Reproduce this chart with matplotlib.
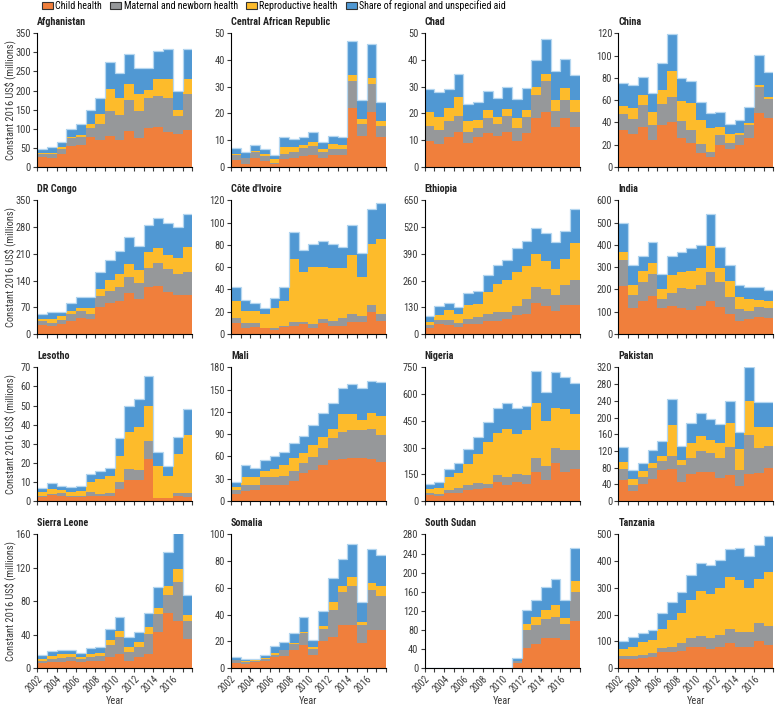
import matplotlib.pyplot as plt
from matplotlib import font_manager as fm
from matplotlib import transforms
import numpy as np

# the reference uses a condensed sans; pick one if the machine has it
pref = ['Roboto', 'Roboto Condensed', 'Noto Sans', 'Noto Sans Condensed', 'Open Sans',
        'Open Sans Condensed', 'Liberation Sans Narrow', 'DejaVu Sans']
narrow = [f for f in fm.fontManager.ttflist
          if f.stretch in ('condensed', 'semi-condensed', 'extra-condensed')
          or 'Condensed' in f.name or 'Narrow' in f.name]
narrow = sorted([f for f in narrow if f.name in pref], key=lambda f: pref.index(f.name))
if narrow:
    plt.rcParams['font.family'] = [narrow[0].name, 'DejaVu Sans']
    plt.rcParams['font.stretch'] = narrow[0].stretch
else:
    plt.rcParams['font.family'] = ['Liberation Sans', 'DejaVu Sans']
condensed = bool(narrow)

years = np.arange(2002, 2018)
layers = ['Child health', 'Maternal and newborn health', 'Reproductive health',
          'Share of regional and unspecified aid']
colors = ['#F07F3C', '#96989A', '#FDBB2B', '#5098D3']

# each country: child, maternal/newborn, reproductive, regional/unspecified (US$ millions)
afghanistan = [
    [26, 23, 35, 55, 58, 77, 70, 82, 70, 95, 76, 101, 104, 91, 85, 97],
    [9, 10, 13, 21, 21, 25, 43, 64, 67, 79, 70, 79, 82, 89, 47, 93],
    [2, 3, 3, 1, 5, 11, 26, 59, 44, 44, 46, 22, 43, 51, 18, 41],
    [11, 17, 13, 23, 29, 35, 42, 69, 64, 78, 66, 58, 74, 78, 50, 78],
]
car = [
    [2.5, 1.2, 3.5, 2.2, 1.0, 3.1, 3.5, 4.1, 4.5, 3.2, 4.5, 4.5, 21.9, 11.5, 20.6, 11.0],
    [1.9, 2.0, 1.9, 1.7, 0.6, 1.6, 1.9, 2.8, 3.2, 2.2, 2.1, 2.1, 10.3, 4.5, 10.3, 4.3],
    [0.3, 0.3, 0.6, 0.8, 1.3, 2.9, 2.2, 1.2, 1.7, 1.2, 1.9, 1.6, 2.0, 1.8, 2.3, 1.9],
    [2.5, 2.2, 2.2, 2.0, 1.6, 3.4, 2.9, 3.2, 3.8, 2.8, 3.0, 2.8, 12.9, 7.3, 12.7, 7.1],
]
chad = [
    [9.5, 8.5, 11.0, 13.2, 9.0, 11.0, 12.8, 11.6, 13.2, 9.7, 12.8, 18.2, 20.7, 15.1, 18.2, 15.1],
    [5.8, 5.2, 6.0, 5.9, 4.2, 3.7, 5.4, 4.6, 5.9, 5.0, 5.7, 8.7, 11.5, 5.8, 6.9, 5.5],
    [5.3, 5.0, 4.9, 7.1, 3.8, 2.8, 3.0, 2.6, 2.5, 3.5, 2.7, 3.0, 2.7, 4.2, 4.3, 4.3],
    [8.5, 9.5, 7.2, 8.5, 6.4, 6.9, 7.2, 6.9, 8.3, 7.1, 8.2, 10.0, 12.9, 10.8, 11.1, 9.5],
]
china = [
    [32.7, 29.7, 35.7, 23.7, 37.2, 40.5, 26.1, 21.6, 12.6, 9.3, 19.5, 16.2, 19.5, 26.1, 48.3, 43.8],
    [14.4, 12.9, 19.8, 13.5, 19.5, 22.2, 15.3, 11.1, 8.1, 4.2, 9.0, 5.4, 8.7, 11.4, 23.4, 16.8],
    [7.5, 10.2, 9.0, 12.0, 12.6, 23.1, 17.7, 24.6, 21.3, 21.0, 7.2, 7.5, 2.4, 1.5, 1.8, 2.1],
    [20.4, 21.0, 16.2, 16.8, 24.3, 33.2, 20.4, 19.8, 16.2, 13.5, 13.5, 9.0, 11.1, 15.0, 26.7, 22.2],
]
dr_congo = [
    [24, 20, 26, 35, 42, 39, 70, 81, 87, 107, 92, 122, 126, 111, 102, 102],
    [9, 10, 11, 16, 17, 14, 30, 32, 36, 41, 41, 51, 59, 59, 55, 61],
    [7, 10, 9, 10, 9, 16, 18, 29, 35, 35, 35, 42, 39, 38, 43, 64],
    [12, 17, 11, 20, 29, 27, 45, 52, 58, 70, 62, 70, 80, 83, 80, 87],
]
cote_divoire = [
    [10.1, 5.7, 6.6, 5.1, 3.9, 6.0, 6.9, 8.7, 5.1, 10.1, 7.2, 7.2, 11.0, 10.4, 20.0, 11.9],
    [3.9, 4.4, 3.5, 0.6, 1.8, 1.5, 4.1, 2.3, 3.6, 3.0, 4.7, 6.8, 6.6, 6.0, 6.0, 5.7],
    [15.6, 10.8, 10.8, 11.9, 17.3, 22.1, 55.9, 44.8, 51.6, 47.2, 47.5, 45.4, 53.7, 34.9, 55.2, 68.1],
    [12.2, 9.5, 6.6, 5.4, 8.9, 12.2, 24.7, 20.0, 20.9, 23.3, 21.8, 18.8, 26.9, 21.8, 31.3, 32.2],
]
ethiopia = [
    [29, 48, 42, 35, 48, 48, 61, 65, 73, 90, 98, 150, 137, 113, 139, 142],
    [13, 21, 27, 18, 26, 33, 36, 41, 33, 47, 73, 76, 84, 77, 100, 121],
    [16, 21, 46, 44, 68, 66, 109, 138, 157, 166, 161, 161, 135, 125, 124, 177],
    [27, 44, 35, 32, 56, 63, 81, 91, 97, 113, 121, 126, 136, 133, 139, 170],
]
india = [
    [216, 116, 149, 171, 116, 126, 116, 108, 126, 149, 120, 89, 56, 66, 78, 71],
    [114, 60, 84, 98, 42, 60, 90, 95, 95, 129, 113, 75, 57, 38, 42, 45],
    [36, 45, 48, 50, 45, 77, 74, 81, 75, 116, 63, 72, 51, 54, 33, 33],
    [132, 87, 70, 93, 66, 88, 89, 100, 105, 145, 95, 72, 57, 51, 56, 50],
]
lesotho = [
    [2.3, 3.1, 2.6, 2.3, 2.3, 2.8, 2.4, 2.8, 6.3, 11.0, 11.0, 21.8, 1.4, 1.4, 2.6, 2.1],
    [0.5, 0.6, 1.4, 0.3, 0.3, 1.7, 1.1, 1.6, 3.8, 5.6, 5.2, 9.6, 0.3, 0.3, 1.4, 1.9],
    [1.7, 2.4, 1.8, 2.3, 2.8, 5.3, 8.0, 8.7, 13.6, 19.7, 22.7, 18.5, 16.8, 11.4, 20.4, 30.6],
    [2.1, 3.1, 2.2, 2.3, 2.6, 4.2, 4.2, 4.4, 9.1, 13.6, 14.3, 15.5, 7.0, 5.4, 8.9, 13.6],
]
mali = [
    [9.4, 13.5, 14.8, 21.5, 21.5, 21.5, 26.9, 37.3, 41.7, 48.5, 55.2, 56.1, 58.3, 58.3, 56.1, 53.0],
    [5.4, 8.0, 6.7, 11.3, 11.3, 12.2, 13.5, 13.4, 18.0, 22.4, 29.2, 37.3, 37.3, 37.3, 40.9, 35.9],
    [3.6, 11.3, 11.3, 8.0, 10.3, 14.8, 17.9, 13.5, 15.7, 14.8, 12.6, 23.3, 21.1, 13.5, 21.0, 26.0],
    [6.7, 15.7, 11.2, 14.4, 17.5, 17.9, 19.2, 23.8, 26.9, 32.3, 34.5, 35.9, 41.3, 43.5, 43.6, 44.9],
]
nigeria = [
    [34, 28, 43, 43, 62, 67, 75, 108, 90, 105, 95, 165, 118, 211, 165, 178],
    [13, 13, 19, 32, 28, 36, 20, 38, 47, 45, 51, 74, 80, 84, 121, 108],
    [20, 34, 75, 84, 116, 159, 234, 237, 267, 226, 250, 313, 253, 225, 228, 200],
    [28, 33, 43, 56, 84, 95, 116, 137, 144, 144, 137, 179, 159, 206, 184, 178],
]
pakistan = [
    [49.6, 24, 40, 53.6, 73.6, 77.6, 46.4, 64, 69.6, 69.6, 56, 61.6, 36, 64, 68, 78.4],
    [26.4, 14.4, 18.4, 24.8, 22.4, 30.4, 39.2, 40, 50.4, 44.8, 46.4, 68, 37.6, 94.4, 58.4, 52.8],
    [17.6, 13.6, 13.6, 12, 12, 74.4, 13.6, 36, 35.2, 31.2, 37.6, 57.6, 52, 81.6, 52, 47.2],
    [36, 21.6, 18.4, 31.2, 36, 61.6, 32.8, 48, 54.4, 50.4, 45.6, 52.8, 40.8, 80, 59.2, 59.2],
]
sierra_leone = [
    [6.0, 7.1, 7.1, 8.3, 7.1, 8.3, 9.1, 13.1, 17.1, 9.1, 13.1, 17.1, 42.9, 65.9, 56.8, 34.9],
    [3.1, 4.0, 5.2, 4.8, 4.0, 4.8, 5.2, 14.7, 19.8, 10.7, 11.9, 23.8, 21.8, 21.8, 46.8, 21.1],
    [2.0, 3.2, 4.8, 4.0, 2.0, 4.0, 4.0, 5.9, 7.2, 6.0, 6.8, 8.7, 6.8, 10.7, 15.5, 7.9],
    [4.8, 6.7, 5.1, 5.1, 5.2, 6.7, 7.5, 13.1, 16.6, 11.1, 11.9, 15.9, 25.8, 40.9, 44.1, 23.8],
]
somalia = [
    [4.0, 3.2, 4.5, 5.0, 8.2, 8.9, 13.2, 17.4, 9.9, 20.6, 23.1, 32.3, 32.3, 18.9, 28.5, 28.5],
    [1.7, 1.3, 0.5, 1.5, 1.7, 4.3, 4.9, 8.9, 4.5, 8.7, 20.3, 24.3, 29.2, 13.4, 29.8, 25.6],
    [0.5, 0.7, 1.2, 0.9, 1.3, 0.7, 0.8, 0.5, 1.2, 2.0, 5.7, 4.9, 6.7, 1.9, 5.7, 7.4],
    [2.0, 1.7, 0.7, 2.5, 5.2, 6.0, 7.4, 11.2, 5.7, 11.1, 18.1, 19.9, 24.9, 14.9, 24.8, 23.1],
]
south_sudan = [
    [0, 0, 0, 0, 0, 0, 0, 0, 0, 10.4, 43, 51.3, 63.8, 63.8, 58.2, 98.4],
    [0, 0, 0, 0, 0, 0, 0, 0, 0, 3.5, 36, 38.8, 39.5, 43.6, 33.3, 61],
    [0, 0, 0, 0, 0, 0, 0, 0, 0, 0, 12.5, 17.3, 19.4, 25.7, 13.8, 22.2],
    [0, 0, 0, 0, 0, 0, 0, 0, 0, 8.3, 31.2, 34.7, 47.1, 54, 38.2, 69.3],
]
tanzania = [
    [34, 34, 38, 41, 59, 59, 65, 80, 80, 71, 80, 94, 78, 78, 103, 88],
    [10, 12, 11, 14, 16, 21, 28, 31, 39, 40, 44, 51, 58, 58, 65, 71],
    [27, 34, 47, 51, 71, 100, 113, 144, 171, 167, 176, 195, 194, 164, 166, 202],
    [32, 35, 34, 37, 59, 66, 78, 94, 103, 106, 106, 106, 120, 118, 125, 133],
]

# (title, data, y max, y step)
panels = [
    ('Afghanistan', afghanistan, 350, 50),
    ('Central African Republic', car, 50, 10),
    ('Chad', chad, 50, 10),
    ('China', china, 120, 20),
    ('DR Congo', dr_congo, 350, 70),
    ("Côte d'Ivoire", cote_divoire, 120, 20),
    ('Ethiopia', ethiopia, 650, 130),
    ('India', india, 600, 100),
    ('Lesotho', lesotho, 70, 10),
    ('Mali', mali, 180, 30),
    ('Nigeria', nigeria, 750, 150),
    ('Pakistan', pakistan, 320, 40),
    ('Sierra Leone', sierra_leone, 160, 40),
    ('Somalia', somalia, 100, 20),
    ('South Sudan', south_sudan, 280, 40),
    ('Tanzania', tanzania, 500, 100),
]

fs = 7.5 if condensed else 6.5
fig, axes = plt.subplots(4, 4, figsize=(7.75, 7.07), dpi=100)
fig.subplots_adjust(left=0.048, right=0.998, top=0.953, bottom=0.055,
                    wspace=0.25, hspace=0.25)

edges = np.append(years, years[-1] + 1)
for i, (ax, (name, data, ymax, ystep)) in enumerate(zip(axes.flat, panels)):
    base = np.zeros(len(years))
    for vals, c in zip(data, colors):
        top = base + np.array(vals)
        ax.stairs(top, edges, baseline=base, fill=True, color=c, linewidth=0)
        base = top
    if base.max() > 0:
        ax.stairs(base, edges, baseline=None, color='#B5D7F0', linewidth=0.9)

    ax.set_xlim(2002, 2018)
    ax.set_ylim(0, ymax)
    ax.set_yticks(np.arange(0, ymax + 1, ystep))
    ax.set_xticks(np.arange(2002, 2019))
    for s in ['top', 'right']:
        ax.spines[s].set_visible(False)
    for s in ['left', 'bottom']:
        ax.spines[s].set_linewidth(0.8)
    ax.tick_params(length=3, width=0.8, labelsize=fs, colors='#3a3a3a', pad=1.5)
    ax.tick_params(axis='x', labelsize=fs - 0.5, pad=1)
    ax.set_title(name, loc='left', fontsize=fs - 0.2, fontweight='semibold', pad=6, color='#222222')

    row, col = divmod(i, 4)
    if row == 3:
        ax.set_xticklabels([str(y) if (y - 2002) % 2 == 0 and y < 2018 else '' for y in range(2002, 2019)],
                           rotation=45, ha='right', rotation_mode='anchor')
        ax.set_xlabel('Year', fontsize=fs, color='#3a3a3a', va='bottom')
        ax.xaxis.set_label_coords(0.5, 1.5 / 707,
                                  transform=transforms.blended_transform_factory(ax.transAxes, fig.transFigure))
    else:
        ax.set_xticklabels([])
    if col == 0:
        ax.set_ylabel('Constant 2016 US$ (millions)', fontsize=fs, color='#3a3a3a')
        ax.yaxis.set_label_coords(-0.135, 0.5)

handles = [plt.Rectangle((0, 0), 1, 1, facecolor=c, edgecolor='#333333', linewidth=0.8) for c in colors]
fig.legend(handles, layers, loc='center left', bbox_to_anchor=(0.049, 0.992), ncol=4,
           frameon=False, fontsize=fs - 0.3, handlelength=1.1, handleheight=0.8,
           handletextpad=0.25, columnspacing=0.8, borderaxespad=0)

fig.savefig('out.png', dpi=100)
